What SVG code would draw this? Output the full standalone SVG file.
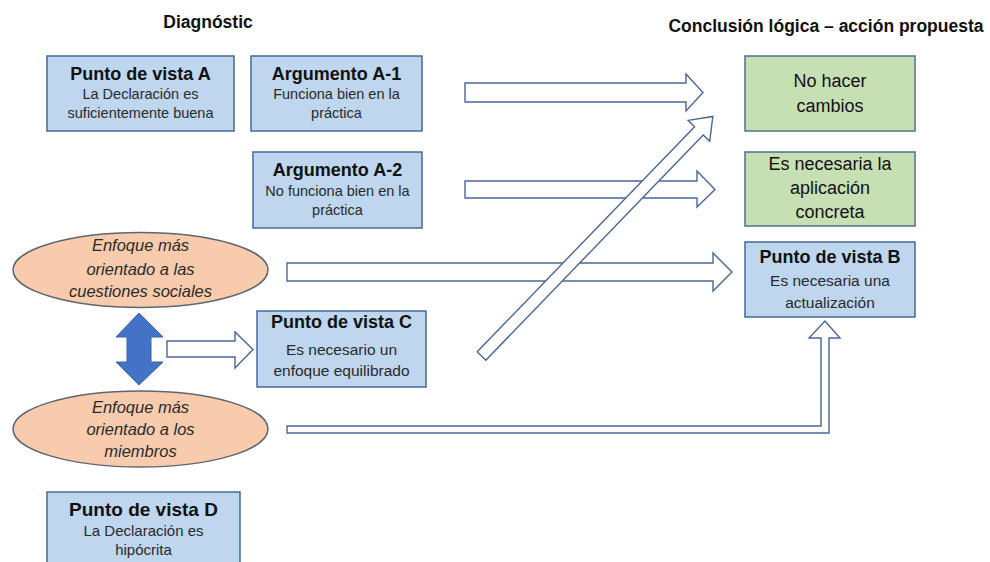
<svg xmlns="http://www.w3.org/2000/svg" width="990" height="562" viewBox="0 0 990 562">
<style>
  .hdr { font-family: "Liberation Sans", Arial, sans-serif; font-weight: bold; font-size: 17.5px; fill: #111; }
  .box { fill: #bed6ee; stroke: #44699a; stroke-width: 1.5; }
  .green { fill: #c6e0b4; stroke: #4f6f8f; stroke-width: 1.5; }
  .ell { fill: #f8cbad; stroke: #5f6670; stroke-width: 1.5; }
  .ttl { font-family: "Liberation Sans", Arial, sans-serif; font-weight: bold; font-size: 18px; fill: #111; text-anchor: middle; }
  .sub { font-family: "Liberation Sans", Arial, sans-serif; font-size: 14.5px; fill: #2a2a2a; text-anchor: middle; }
  .sub2 { font-family: "Liberation Sans", Arial, sans-serif; font-size: 15.5px; fill: #2a2a2a; text-anchor: middle; }
  .big { font-family: "Liberation Sans", Arial, sans-serif; font-size: 18px; fill: #111; text-anchor: middle; }
  .ital { font-family: "Liberation Sans", Arial, sans-serif; font-style: italic; font-size: 16.5px; fill: #2a2a2a; text-anchor: middle; }
  .arr { fill: #ffffff; stroke: #4a6796; stroke-width: 1.4; stroke-linejoin: miter; }
  .dbl { fill: #4472c4; stroke: #3c64ad; stroke-width: 1; }
</style>

<g id="headers">
  <text class="hdr" x="208" y="28" text-anchor="middle">Diagnóstic</text>
  <text class="hdr" x="826" y="32" text-anchor="middle">Conclusión lógica – acción propuesta</text>
</g>

<g id="connectors">
  <!-- A-1 to No hacer cambios -->
  <polygon class="arr" points="465,83 686,83 686,74 703,92.5 686,111 686,102 465,102"/>
  <!-- A-2 to Es necesaria la aplicación concreta -->
  <polygon class="arr" points="465,181 697,181 697,171 715,189.5 697,207 697,198 465,198"/>
  <!-- Ellipse social to Punto de vista B -->
  <polygon class="arr" points="287,263 713,263 713,253 732,272 713,291 713,281 287,281"/>
  <!-- Punto de vista C diagonal to No hacer cambios -->
  <polygon class="arr" transform="translate(481.5,356) rotate(-46)" points="0,-6 313,-6 313,-15 333,0 313,15 313,6 0,6"/>
  <!-- Ellipse miembros to Punto de vista B (bent) -->
  <polygon class="arr" points="287,426 821,426 821,338 809,338 825,321 840,338 829,338 829,433 287,433"/>
  <!-- double arrow to Punto de vista C -->
  <polygon class="arr" points="167,341 235,341 235,332 253,349.5 235,368 235,357 167,357"/>
  <!-- vertical double arrow between ellipses -->
  <polygon class="dbl" points="139,313 163,337 151,337 151,362 163,362 139,385 116,362 127,362 127,337 116,337"/>
</g>

<g id="node-punto-a">
  <rect class="box" x="47" y="56" width="187" height="75"/>
  <text class="ttl" x="140.5" y="80">Punto de vista A</text>
  <text class="sub" x="140.5" y="99">La Declaración es</text>
  <text class="sub" x="140.5" y="118">suficientemente buena</text>
</g>

<g id="node-argumento-a1">
  <rect class="box" x="251" y="56" width="171" height="75"/>
  <text class="ttl" x="336.5" y="80">Argumento A-1</text>
  <text class="sub" x="336.5" y="99">Funciona bien en la</text>
  <text class="sub" x="336.5" y="118">práctica</text>
</g>

<g id="node-argumento-a2">
  <rect class="box" x="253" y="152" width="169" height="76"/>
  <text class="ttl" x="337.5" y="176">Argumento A-2</text>
  <text class="sub" x="337.5" y="196">No funciona bien en la</text>
  <text class="sub" x="337.5" y="215">práctica</text>
</g>

<g id="node-no-hacer-cambios">
  <rect class="green" x="745" y="56" width="170" height="75"/>
  <text class="big" x="830" y="87">No hacer</text>
  <text class="big" x="830" y="112">cambios</text>
</g>

<g id="node-aplicacion-concreta">
  <rect class="green" x="745" y="152" width="170" height="74"/>
  <text class="big" x="830" y="170">Es necesaria la</text>
  <text class="big" x="830" y="194">aplicación</text>
  <text class="big" x="830" y="218">concreta</text>
</g>

<g id="node-punto-b">
  <rect class="box" x="745" y="242" width="170" height="75"/>
  <text class="ttl" x="830" y="263">Punto de vista B</text>
  <text class="sub2" x="830" y="286">Es necesaria una</text>
  <text class="sub2" x="830" y="308">actualización</text>
</g>

<g id="node-enfoque-social">
  <ellipse class="ell" cx="140.5" cy="270" rx="127.5" ry="37.5"/>
  <text class="ital" x="140.5" y="251">Enfoque más</text>
  <text class="ital" x="140.5" y="275">orientado a las</text>
  <text class="ital" x="140.5" y="297">cuestiones sociales</text>
</g>

<g id="node-punto-c">
  <rect class="box" x="257" y="311" width="169" height="76"/>
  <text class="ttl" x="341.5" y="328">Punto de vista C</text>
  <text class="sub2" x="341.5" y="355">Es necesario un</text>
  <text class="sub2" x="341.5" y="376">enfoque equilibrado</text>
</g>

<g id="node-enfoque-miembros">
  <ellipse class="ell" cx="140.5" cy="429" rx="127.5" ry="38"/>
  <text class="ital" x="140.5" y="413">Enfoque más</text>
  <text class="ital" x="140.5" y="435">orientado a los</text>
  <text class="ital" x="140.5" y="457">miembros</text>
</g>

<g id="node-punto-d">
  <rect class="box" x="47" y="492" width="193" height="85"/>
  <text class="ttl" x="143.5" y="516" style="font-size:19px">Punto de vista D</text>
  <text class="sub2" x="143.5" y="536" style="font-size:15px">La Declaración es</text>
  <text class="sub2" x="143.5" y="555" style="font-size:15px">hipócrita</text>
</g>
</svg>
